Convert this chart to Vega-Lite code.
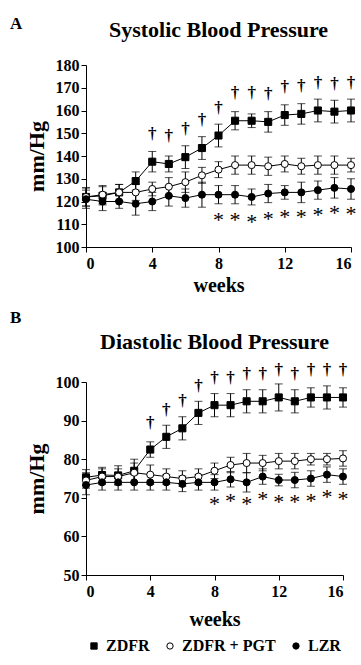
{
  "$schema": "https://vega.github.io/schema/vega-lite/v6.json",
  "background": "white",
  "padding": {"left": 10, "top": 15, "right": 2, "bottom": 5},
  "config": {
    "font": "Liberation Serif",
    "view": {"stroke": null},
    "axis": {
      "grid": false,
      "domainColor": "black",
      "tickColor": "black",
      "tickSize": 5,
      "labelColor": "black",
      "labelFont": "Liberation Serif",
      "labelFontWeight": "bold",
      "labelFontSize": 16,
      "titleColor": "black",
      "titleFont": "Liberation Serif",
      "titleFontWeight": "bold",
      "titleFontSize": 22
    },
    "axisY": {"titlePadding": 7, "labelPadding": 2},
    "axisX": {"titlePadding": 4, "labelPadding": 3, "titleFontSize": 20},
    "title": {"font": "Liberation Serif", "fontWeight": "bold", "color": "black", "fontSize": 22},
    "legend": {
      "orient": "bottom",
      "direction": "horizontal",
      "labelFont": "Liberation Serif",
      "labelFontSize": 16,
      "labelFontWeight": "bold",
      "labelColor": "black",
      "symbolStrokeWidth": 1,
      "symbolSize": 40,
      "columnPadding": 12,
      "offset": 9
    }
  },
  "datasets": {
    "systolic": [
      {"week": 0, "group": "ZDFR", "mean": 122, "sem": 4, "sig": ""},
      {"week": 1, "group": "ZDFR", "mean": 122.5, "sem": 4, "sig": ""},
      {"week": 2, "group": "ZDFR", "mean": 124, "sem": 3.5, "sig": ""},
      {"week": 3, "group": "ZDFR", "mean": 129, "sem": 4, "sig": ""},
      {"week": 4, "group": "ZDFR", "mean": 137.5, "sem": 4.5, "sig": "†"},
      {"week": 5, "group": "ZDFR", "mean": 136.5, "sem": 3.5, "sig": "†"},
      {"week": 6, "group": "ZDFR", "mean": 139.5, "sem": 5, "sig": "†"},
      {"week": 7, "group": "ZDFR", "mean": 143.5, "sem": 5, "sig": "†"},
      {"week": 8, "group": "ZDFR", "mean": 149, "sem": 5, "sig": "†"},
      {"week": 9, "group": "ZDFR", "mean": 155.5, "sem": 4, "sig": "†"},
      {"week": 10, "group": "ZDFR", "mean": 155.5, "sem": 3, "sig": "†"},
      {"week": 11, "group": "ZDFR", "mean": 155, "sem": 4.5, "sig": "†"},
      {"week": 12, "group": "ZDFR", "mean": 158, "sem": 4.5, "sig": "†"},
      {"week": 13, "group": "ZDFR", "mean": 158.5, "sem": 4.5, "sig": "†"},
      {"week": 14, "group": "ZDFR", "mean": 160, "sem": 5, "sig": "†"},
      {"week": 15, "group": "ZDFR", "mean": 159.5, "sem": 5, "sig": "†"},
      {"week": 16, "group": "ZDFR", "mean": 160, "sem": 5, "sig": "†"},
      {"week": 0, "group": "ZDFR + PGT", "mean": 122, "sem": 4, "sig": ""},
      {"week": 1, "group": "ZDFR + PGT", "mean": 123, "sem": 4, "sig": ""},
      {"week": 2, "group": "ZDFR + PGT", "mean": 124, "sem": 3.5, "sig": ""},
      {"week": 3, "group": "ZDFR + PGT", "mean": 124, "sem": 3.5, "sig": ""},
      {"week": 4, "group": "ZDFR + PGT", "mean": 125.5, "sem": 3, "sig": ""},
      {"week": 5, "group": "ZDFR + PGT", "mean": 126.5, "sem": 4, "sig": ""},
      {"week": 6, "group": "ZDFR + PGT", "mean": 128.5, "sem": 4.5, "sig": ""},
      {"week": 7, "group": "ZDFR + PGT", "mean": 131.5, "sem": 3.5, "sig": ""},
      {"week": 8, "group": "ZDFR + PGT", "mean": 134, "sem": 3.5, "sig": ""},
      {"week": 9, "group": "ZDFR + PGT", "mean": 136, "sem": 4, "sig": ""},
      {"week": 10, "group": "ZDFR + PGT", "mean": 136, "sem": 4, "sig": ""},
      {"week": 11, "group": "ZDFR + PGT", "mean": 135.5, "sem": 4, "sig": ""},
      {"week": 12, "group": "ZDFR + PGT", "mean": 136.5, "sem": 3.5, "sig": ""},
      {"week": 13, "group": "ZDFR + PGT", "mean": 135.5, "sem": 3.5, "sig": ""},
      {"week": 14, "group": "ZDFR + PGT", "mean": 136, "sem": 4, "sig": ""},
      {"week": 15, "group": "ZDFR + PGT", "mean": 136, "sem": 4, "sig": ""},
      {"week": 16, "group": "ZDFR + PGT", "mean": 136, "sem": 3, "sig": ""},
      {"week": 0, "group": "LZR", "mean": 121, "sem": 4, "sig": ""},
      {"week": 1, "group": "LZR", "mean": 120, "sem": 4, "sig": ""},
      {"week": 2, "group": "LZR", "mean": 120, "sem": 3, "sig": ""},
      {"week": 3, "group": "LZR", "mean": 119, "sem": 5, "sig": ""},
      {"week": 4, "group": "LZR", "mean": 120, "sem": 4, "sig": ""},
      {"week": 5, "group": "LZR", "mean": 122.5, "sem": 4.5, "sig": ""},
      {"week": 6, "group": "LZR", "mean": 121.5, "sem": 4, "sig": ""},
      {"week": 7, "group": "LZR", "mean": 123, "sem": 5.5, "sig": ""},
      {"week": 8, "group": "LZR", "mean": 123, "sem": 4, "sig": "*"},
      {"week": 9, "group": "LZR", "mean": 123, "sem": 4, "sig": "*"},
      {"week": 10, "group": "LZR", "mean": 122, "sem": 3.5, "sig": "*"},
      {"week": 11, "group": "LZR", "mean": 123.5, "sem": 4, "sig": "*"},
      {"week": 12, "group": "LZR", "mean": 124, "sem": 3, "sig": "*"},
      {"week": 13, "group": "LZR", "mean": 124, "sem": 4.5, "sig": "*"},
      {"week": 14, "group": "LZR", "mean": 125, "sem": 4, "sig": "*"},
      {"week": 15, "group": "LZR", "mean": 126, "sem": 4.5, "sig": "*"},
      {"week": 16, "group": "LZR", "mean": 125.5, "sem": 4.5, "sig": "*"}
    ],
    "diastolic": [
      {"week": 0, "group": "ZDFR", "mean": 75.3, "sem": 2, "sig": ""},
      {"week": 1, "group": "ZDFR", "mean": 75.9, "sem": 2, "sig": ""},
      {"week": 2, "group": "ZDFR", "mean": 75.8, "sem": 2.5, "sig": ""},
      {"week": 3, "group": "ZDFR", "mean": 77, "sem": 3, "sig": ""},
      {"week": 4, "group": "ZDFR", "mean": 82.5, "sem": 2, "sig": "†"},
      {"week": 5, "group": "ZDFR", "mean": 85.8, "sem": 3, "sig": "†"},
      {"week": 6, "group": "ZDFR", "mean": 88, "sem": 3, "sig": "†"},
      {"week": 7, "group": "ZDFR", "mean": 92, "sem": 3, "sig": "†"},
      {"week": 8, "group": "ZDFR", "mean": 94, "sem": 3, "sig": "†"},
      {"week": 9, "group": "ZDFR", "mean": 94, "sem": 3, "sig": "†"},
      {"week": 10, "group": "ZDFR", "mean": 95, "sem": 3, "sig": "†"},
      {"week": 11, "group": "ZDFR", "mean": 95, "sem": 3, "sig": "†"},
      {"week": 12, "group": "ZDFR", "mean": 96, "sem": 3.5, "sig": "†"},
      {"week": 13, "group": "ZDFR", "mean": 95, "sem": 3, "sig": "†"},
      {"week": 14, "group": "ZDFR", "mean": 96, "sem": 2.5, "sig": "†"},
      {"week": 15, "group": "ZDFR", "mean": 96, "sem": 3, "sig": "†"},
      {"week": 16, "group": "ZDFR", "mean": 96, "sem": 2.5, "sig": "†"},
      {"week": 0, "group": "ZDFR + PGT", "mean": 74.5, "sem": 2, "sig": ""},
      {"week": 1, "group": "ZDFR + PGT", "mean": 75.5, "sem": 2, "sig": ""},
      {"week": 2, "group": "ZDFR + PGT", "mean": 75.5, "sem": 2, "sig": ""},
      {"week": 3, "group": "ZDFR + PGT", "mean": 76.5, "sem": 2.5, "sig": ""},
      {"week": 4, "group": "ZDFR + PGT", "mean": 76, "sem": 2.5, "sig": ""},
      {"week": 5, "group": "ZDFR + PGT", "mean": 75.5, "sem": 2, "sig": ""},
      {"week": 6, "group": "ZDFR + PGT", "mean": 75, "sem": 2, "sig": ""},
      {"week": 7, "group": "ZDFR + PGT", "mean": 75.5, "sem": 2, "sig": ""},
      {"week": 8, "group": "ZDFR + PGT", "mean": 77, "sem": 2, "sig": ""},
      {"week": 9, "group": "ZDFR + PGT", "mean": 78.5, "sem": 2, "sig": ""},
      {"week": 10, "group": "ZDFR + PGT", "mean": 79, "sem": 2.5, "sig": ""},
      {"week": 11, "group": "ZDFR + PGT", "mean": 79, "sem": 2, "sig": ""},
      {"week": 12, "group": "ZDFR + PGT", "mean": 79.5, "sem": 2, "sig": ""},
      {"week": 13, "group": "ZDFR + PGT", "mean": 79.5, "sem": 2, "sig": ""},
      {"week": 14, "group": "ZDFR + PGT", "mean": 80, "sem": 1.5, "sig": ""},
      {"week": 15, "group": "ZDFR + PGT", "mean": 80, "sem": 1.5, "sig": ""},
      {"week": 16, "group": "ZDFR + PGT", "mean": 80.2, "sem": 2, "sig": ""},
      {"week": 0, "group": "LZR", "mean": 73.3, "sem": 2.5, "sig": ""},
      {"week": 1, "group": "LZR", "mean": 74, "sem": 2, "sig": ""},
      {"week": 2, "group": "LZR", "mean": 74, "sem": 2, "sig": ""},
      {"week": 3, "group": "LZR", "mean": 74, "sem": 2, "sig": ""},
      {"week": 4, "group": "LZR", "mean": 74, "sem": 2, "sig": ""},
      {"week": 5, "group": "LZR", "mean": 74, "sem": 2, "sig": ""},
      {"week": 6, "group": "LZR", "mean": 73.6, "sem": 2, "sig": ""},
      {"week": 7, "group": "LZR", "mean": 74, "sem": 2, "sig": ""},
      {"week": 8, "group": "LZR", "mean": 74, "sem": 2, "sig": "*"},
      {"week": 9, "group": "LZR", "mean": 74.8, "sem": 2, "sig": "*"},
      {"week": 10, "group": "LZR", "mean": 74, "sem": 2.5, "sig": "*"},
      {"week": 11, "group": "LZR", "mean": 75.5, "sem": 2, "sig": "*"},
      {"week": 12, "group": "LZR", "mean": 74.6, "sem": 1.5, "sig": "*"},
      {"week": 13, "group": "LZR", "mean": 74.6, "sem": 2, "sig": "*"},
      {"week": 14, "group": "LZR", "mean": 75, "sem": 2, "sig": "*"},
      {"week": 15, "group": "LZR", "mean": 76, "sem": 2, "sig": "*"},
      {"week": 16, "group": "LZR", "mean": 75.5, "sem": 2, "sig": "*"}
    ]
  },
  "spacing": 14,
  "vconcat": [
    {
      "title": {"text": "A", "anchor": "start", "frame": "bounds", "fontSize": 17, "offset": -14, "dx": -15},
      "vconcat": [
        {
          "data": {"name": "systolic"},
          "width": 265,
          "height": 182,
          "title": {"text": "Systolic Blood Pressure", "offset": 15},
          "encoding": {
            "x": {"field": "week", "type": "quantitative", "scale": {"domain": [0, 16], "nice": false}, "axis": {"values": [0, 4, 8, 12, 16], "title": "weeks"}},
            "y": {"field": "mean", "type": "quantitative", "scale": {"domain": [100, 180], "nice": false, "zero": false}, "axis": {"values": [100, 110, 120, 130, 140, 150, 160, 170, 180], "title": "mm/Hg"}}
          },
          "layer": [
            {"mark": {"type": "line", "color": "black", "strokeWidth": 1}, "encoding": {"detail": {"field": "group"}}},
            {"mark": {"type": "errorbar", "ticks": {"size": 8}, "color": "black", "thickness": 1}, "encoding": {"yError": {"field": "sem"}, "detail": {"field": "group"}}},
            {"mark": {"type": "point", "filled": true, "strokeWidth": 1, "opacity": 1, "size": 50},
             "encoding": {
               "shape": {"field": "group", "type": "nominal", "scale": {"domain": ["ZDFR", "ZDFR + PGT", "LZR"], "range": ["square", "circle", "circle"]}, "legend": {"title": null}},
               "fill": {"field": "group", "type": "nominal", "scale": {"domain": ["ZDFR", "ZDFR + PGT", "LZR"], "range": ["black", "white", "black"]}, "legend": {"title": null}},
               "stroke": {"field": "group", "type": "nominal", "scale": {"domain": ["ZDFR", "ZDFR + PGT", "LZR"], "range": ["black", "black", "black"]}, "legend": {"title": null}}
             }},
            {"transform": [{"filter": "datum.sig === '†'"}], "mark": {"type": "text", "dy": -28, "font": "Liberation Serif", "fontSize": 17, "fontWeight": "bold", "color": "black"}, "encoding": {"text": {"field": "sig"}}},
            {"transform": [{"filter": "datum.sig === '*'"}], "mark": {"type": "text", "dy": 25, "font": "Liberation Serif", "fontSize": 22, "color": "black"}, "encoding": {"text": {"field": "sig"}}}
          ]
        }
      ]
    },
    {
      "title": {"text": "B", "anchor": "start", "frame": "bounds", "fontSize": 17, "offset": 4, "dx": -15},
      "vconcat": [
        {
          "data": {"name": "diastolic"},
          "width": 257,
          "height": 193,
          "title": {"text": "Diastolic Blood Pressure", "offset": 7},
          "encoding": {
            "x": {"field": "week", "type": "quantitative", "scale": {"domain": [0, 16], "nice": false}, "axis": {"values": [0, 4, 8, 12, 16], "title": "weeks", "titlePadding": 10}},
            "y": {"field": "mean", "type": "quantitative", "scale": {"domain": [50, 100], "nice": false, "zero": false}, "axis": {"values": [50, 60, 70, 80, 90, 100], "title": "mm/Hg"}}
          },
          "layer": [
            {"mark": {"type": "line", "color": "black", "strokeWidth": 1}, "encoding": {"detail": {"field": "group"}}},
            {"mark": {"type": "errorbar", "ticks": {"size": 8}, "color": "black", "thickness": 1}, "encoding": {"yError": {"field": "sem"}, "detail": {"field": "group"}}},
            {"mark": {"type": "point", "filled": true, "strokeWidth": 1, "opacity": 1, "size": 50},
             "encoding": {
               "shape": {"field": "group", "type": "nominal", "scale": {"domain": ["ZDFR", "ZDFR + PGT", "LZR"], "range": ["square", "circle", "circle"]}, "legend": {"title": null}},
               "fill": {"field": "group", "type": "nominal", "scale": {"domain": ["ZDFR", "ZDFR + PGT", "LZR"], "range": ["black", "white", "black"]}, "legend": {"title": null}},
               "stroke": {"field": "group", "type": "nominal", "scale": {"domain": ["ZDFR", "ZDFR + PGT", "LZR"], "range": ["black", "black", "black"]}, "legend": {"title": null}}
             }},
            {"transform": [{"filter": "datum.sig === '†'"}], "mark": {"type": "text", "dy": -27, "font": "Liberation Serif", "fontSize": 17, "fontWeight": "bold", "color": "black"}, "encoding": {"text": {"field": "sig"}}},
            {"transform": [{"filter": "datum.sig === '*'"}], "mark": {"type": "text", "dy": 22, "font": "Liberation Serif", "fontSize": 22, "color": "black"}, "encoding": {"text": {"field": "sig"}}}
          ]
        }
      ]
    }
  ]
}
